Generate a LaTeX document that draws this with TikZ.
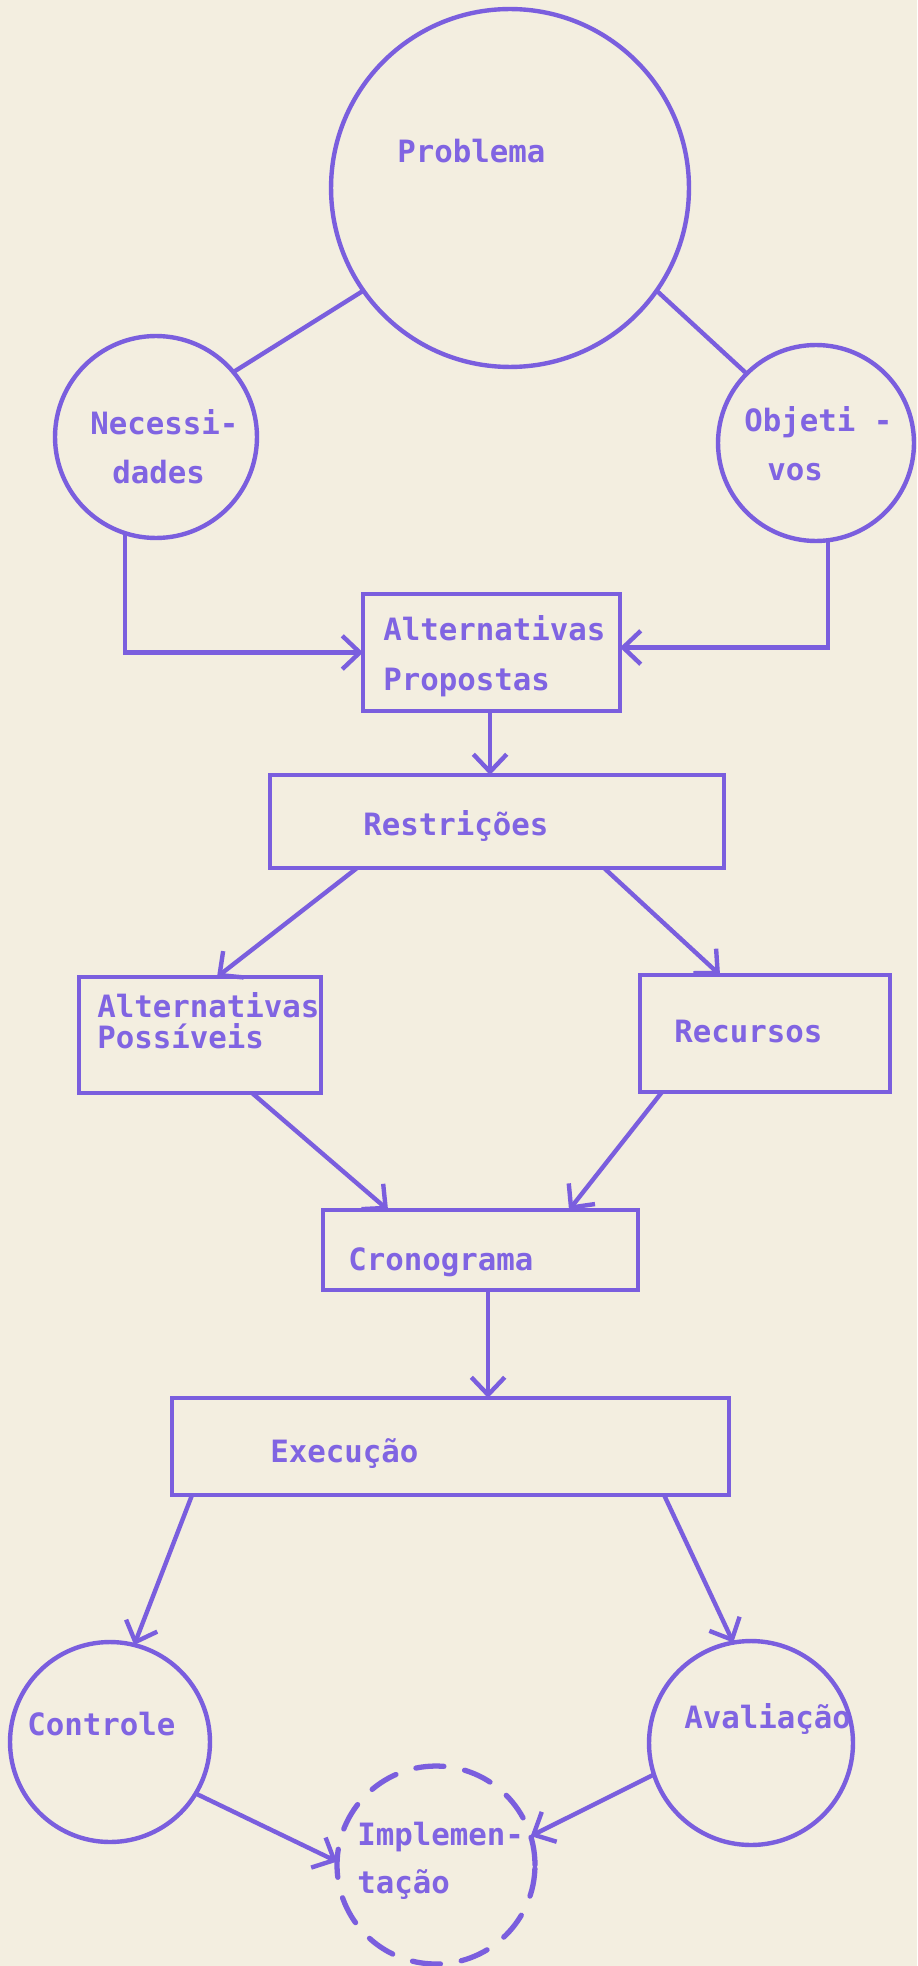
\documentclass[tikz,border=0pt]{standalone}
\usepackage{fontspec}
\newfontfamily\typewriter{DejaVu Sans Mono}
\usetikzlibrary{arrows.meta,calc}
\definecolor{ink}{RGB}{122,94,222}
\definecolor{textink}{RGB}{128,100,226}
\definecolor{paper}{RGB}{243,238,224}
\tikzset{
  shapeline/.style={draw=ink, line width=2.5pt, inner sep=0pt, outer sep=0pt},
  boxnode/.style={shapeline, rectangle},
  ringnode/.style={shapeline, circle},
  dashring/.style={draw=ink, line width=3pt, circle, inner sep=0pt, outer sep=0pt, dash pattern=on 16pt off 12pt, line cap=round},
  txt/.style={anchor=base west, inner sep=0pt, text=textink, font=\typewriter\bfseries\fontsize{17.5}{21}\selectfont},
  conn/.style={draw=ink, line width=2.5pt},
  arr/.style={conn, -{Straight Barb[length=10pt,width=19pt,line width=2.5pt]}}
}
\begin{document}
\begin{tikzpicture}[x=0.02cm,y=-0.02cm]
\fill[paper] (0,0) rectangle (917,1966);
\useasboundingbox (0,0) rectangle (917,1966);

% shapes
\node[ringnode, minimum size=7.16cm] (prob) at (510,188) {};
\node[ringnode, minimum size=4.04cm] (nec) at (156,437) {};
\node[ringnode, minimum size=3.92cm] (obj) at (816,443) {};
\node[boxnode, minimum width=5.14cm, minimum height=2.34cm] (altp) at (491.5,652.5) {};
\node[boxnode, minimum width=9.08cm, minimum height=1.86cm] (restr) at (497,821.5) {};
\node[boxnode, minimum width=4.84cm, minimum height=2.32cm] (altpos) at (200,1035) {};
\node[boxnode, minimum width=5.0cm, minimum height=2.34cm] (recur) at (765,1033.5) {};
\node[boxnode, minimum width=6.3cm, minimum height=1.6cm] (crono) at (480.5,1250) {};
\node[boxnode, minimum width=11.14cm, minimum height=1.94cm] (exec) at (450.5,1446.5) {};
\node[ringnode, minimum size=4.0cm] (ctrl) at (110,1742) {};
\node[ringnode, minimum size=4.08cm] (aval) at (751,1743) {};
\node[dashring, minimum size=3.96cm] (impl) at (436,1865) {};

% texts
\node[txt] (tprob) at (397,163) {Problema};
\node[txt] (tnec1) at (90,435) {Necessi-};
\node[txt] (tnec2) at (112,483) {dades};
\node[txt] (tobj1) at (744,432) {Objeti -};
\node[txt] (tobj2) at (767,480) {vos};
\node[txt] (taltp1) at (383,640) {Alternativas};
\node[txt] (taltp2) at (383,690) {Propostas};
\node[txt] (trestr) at (363,835) {Restrições};
\node[txt] (taltpos1) at (97,1017) {Alternativas};
\node[txt] (taltpos2) at (97,1048) {Possíveis};
\node[txt] (trecur) at (674,1042) {Recursos};
\node[txt] (tcrono) at (348,1270) {Cronograma};
\node[txt] (texec) at (270,1462) {Execução};
\node[txt] (tctrl) at (27,1735) {Controle};
\node[txt] (taval) at (684,1728) {Avaliação};
\node[txt] (timpl1) at (357,1845) {Implemen-};
\node[txt] (timpl2) at (357,1893) {tação};

% connectors
\draw[conn] (prob.215) -- (nec.40);
\draw[conn] (prob.325) -- (obj.135);
\draw[arr] (nec.252) |- (altp.west);
\draw[arr] (obj.277) |- ($(altp.east)+(0,-5)$);
\coordinate (a1) at ($(altp.south west)+(127,0)$);
\draw[arr] (a1) -- (a1 |- restr.north);
\draw[arr] ($(restr.south west)+(87,0)$) -- ($(altpos.north west)+(138,0)$);
\draw[arr] ($(restr.south west)+(334,0)$) -- ($(recur.north west)+(80,0)$);
\draw[arr] ($(altpos.south west)+(173,0)$) -- ($(crono.north west)+(65,0)$);
\draw[arr] ($(recur.south west)+(22,0)$) -- ($(crono.north west)+(246,0)$);
\coordinate (c1) at ($(crono.south west)+(165,0)$);
\draw[arr] (c1) -- (c1 |- exec.north);
\draw[arr] ($(exec.south west)+(20,0)$) -- (ctrl.76);
\draw[arr] ($(exec.south west)+(492,0)$) -- (aval.100);
\draw[arr] (ctrl.-31) -- (impl.178);
\draw[arr] (aval.198) -- (impl.17);
\end{tikzpicture}
\end{document}
